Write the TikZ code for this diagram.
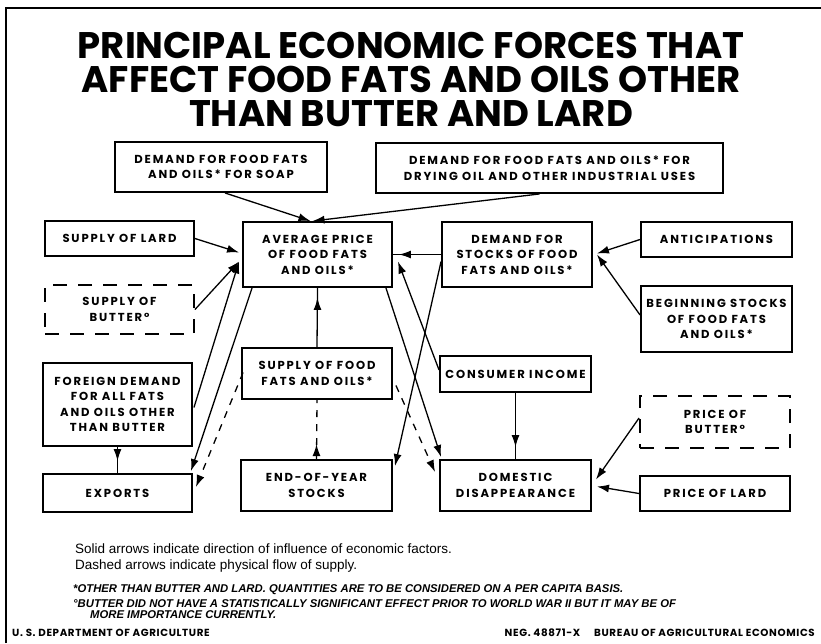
\documentclass[tikz,border=0pt]{standalone}
\usepackage{fontspec}
\setmainfont{Liberation Sans}
\newfontfamily\titlefont{Poppins}
\newfontfamily\boxfont{Poppins}[LetterSpace=16]
\newfontfamily\footfont{Poppins}[LetterSpace=6]
\usetikzlibrary{arrows.meta,calc}

\begin{document}
\begin{tikzpicture}[x=1pt,y=-1pt,
  frame/.style={line width=1.6pt},
  box/.style={draw, line width=1.9pt, align=center, inner sep=0pt,
    font=\boxfont\bfseries\fontsize{11.6}{15.5}\selectfont},
  dbox/.style={box, dash pattern=on 14pt off 11pt},
  sz/.style 2 args={minimum width=#1pt, minimum height=#2pt},
  conn/.style={line width=1.3pt},
  infl/.style={conn, -{Latex[length=12pt,width=8pt]}},
  flow/.style={conn, dash pattern=on 7pt off 7pt},
  flowarrow/.style={flow, -{Latex[length=12pt,width=8pt]}},
  headonly/.style={conn, -{Latex[length=12pt,width=8pt]}},
  ttl/.style={font=\titlefont\bfseries\fontsize{37}{34}\selectfont, inner sep=0pt, anchor=base},
  note/.style={font=\fontsize{13.5}{14}\selectfont, inner sep=0pt, anchor=base west},
  fn/.style={font=\bfseries\itshape\fontsize{11.3}{12}\selectfont, inner sep=0pt, anchor=base west},
  foot/.style={font=\footfont\bfseries\fontsize{10.3}{12}\selectfont, inner sep=0pt}
]
\useasboundingbox (0,0) rectangle (821,643);
\fill[white] (0,0) rectangle (821,643);
\draw[frame] (6,643) -- (6,8) -- (821,8);

% heading
\node[ttl] (t1) at (411,58) {PRINCIPAL ECONOMIC FORCES THAT};
\node[ttl] (t2) at (411,92) {AFFECT FOOD FATS AND OILS OTHER};
\node[ttl] (t3) at (411,126) {THAN BUTTER AND LARD};

% factor boxes
\node[box, sz={212}{50}] (soap) at (221,167) {DEMAND FOR FOOD FATS\\AND OILS* FOR SOAP};
\node[box, sz={347}{50}] (dry) at (549.5,168) {DEMAND FOR FOOD FATS AND OILS* FOR\\DRYING OIL AND OTHER INDUSTRIAL USES};
\node[box, sz={149}{35}] (lard) at (119.5,238.5) {SUPPLY OF LARD};
\node[box, sz={149}{65}] (avg) at (317.5,254.5) {AVERAGE PRICE\\OF FOOD FATS\\AND OILS*};
\node[dbox, sz={149}{49}] (sbut) at (119.5,309.5) {SUPPLY OF\\BUTTER°};
\node[box, sz={150}{65}] (dst) at (517,254.5) {DEMAND FOR\\STOCKS OF FOOD\\FATS AND OILS*};
\node[box, sz={151}{35}] (ant) at (716.5,239.5) {ANTICIPATIONS};
\node[box, sz={151}{66}] (beg) at (716.5,319) {BEGINNING STOCKS\\OF FOOD FATS\\AND OILS*};
\node[box, sz={149}{83}] (fdem) at (117.5,404.5) {FOREIGN DEMAND\\FOR ALL FATS\\AND OILS OTHER\\THAN BUTTER};
\node[box, sz={149}{38}] (exp) at (117.5,493) {EXPORTS};
\node[box, sz={150}{51}] (sup) at (317,373.5) {SUPPLY OF FOOD\\FATS AND OILS*};
\node[box, sz={151}{51}] (eoy) at (316.5,485.5) {END-OF-YEAR\\STOCKS};
\node[box, sz={151}{36}] (inc) at (515.5,374) {CONSUMER INCOME};
\node[dbox, sz={150}{52}] (pbut) at (715,422) {PRICE OF\\BUTTER°};
\node[box, sz={151}{51}] (dom) at (515.5,485.5) {DOMESTIC\\DISAPPEARANCE};
\node[box, sz={150}{35}] (plard) at (715,493.5) {PRICE OF LARD};

% influences (solid)
\draw[infl] ($(soap.south)+(4,0)$) -- ($(avg.north)+(-7,0)$);
\draw[infl] ($(dry.south)+(-10,0)$) -- ($(avg.north)+(-5,0)$);
\draw[infl] (lard.east) -- ($(avg.west)+(-3,-2)$);
\draw[infl] (sbut.east) -- ($(avg.west)+(-3,7)$);
\draw[infl] ($(fdem.east)+(1,3)$) -- ($(avg.west)+(-3,7)$);
\draw[infl] ($(avg.south west)+(10,0)$) -- ($(exp.north east)+(-2,-2)$);
\draw[conn] (fdem.south) -- (exp.north);
\draw[headonly] ($(exp.north)+(0,-26)$) -- ($(exp.north)+(0,-12)$);
\draw[conn] (sup.north) -- (avg.south);
\draw[headonly] ($(avg.south)+(0,24)$) -- ($(avg.south)+(0,10)$);
\draw[infl] ($(avg.south east)+(-7,0)$) -- ($(dom.north west)+(2,-2)$);
\draw[infl] ($(inc.west)+(0,-4)$) -- ($(avg.east)+(5,7)$);
\draw[conn] (dst.west) -- (avg.east);
\draw[headonly] ($(avg.east)+(20,0)$) -- ($(avg.east)+(6,0)$);
\draw[infl] ($(dst.west)+(0,7)$) -- ($(eoy.north east)+(2,7)$);
\draw[infl] (ant.west) -- ($(dst.east)+(4,-1)$);
\draw[infl] ($(beg.west)+(0,-4)$) -- ($(dst.east)+(4,0)$);
\draw[conn] (inc.south) -- (dom.north);
\draw[headonly] ($(dom.north)+(0,-26)$) -- ($(dom.north)+(0,-12)$);
\draw[infl] ($(pbut.west)+(0,-4)$) -- ($(dom.east)+(4,-6)$);
\draw[infl] (plard.west) -- ($(dom.east)+(5,1)$);

% physical flows (dashed)
\draw[flowarrow] ($(sup.west)+(2,-1)$) -- ($(exp.east)+(3,-6)$);
\draw[flow] (eoy.north) -- (sup.south);
\draw[headonly] ($(eoy.north)+(0,-1)$) -- ($(eoy.north)+(0,-15)$);
\draw[flowarrow] ($(sup.east)+(3,12)$) -- ($(dom.north west)+(-4,13)$);

% legend and footnotes
\node[note] (n1) at (75,553) {Solid arrows indicate direction of influence of economic factors.};
\node[note] (n2) at (75,569) {Dashed arrows indicate physical flow of supply.};
\node[fn] (f1) at (73,592) {*OTHER THAN BUTTER AND LARD. QUANTITIES ARE TO BE CONSIDERED ON A PER CAPITA BASIS.};
\node[fn] (f2) at (73,607) {°BUTTER DID NOT HAVE A STATISTICALLY SIGNIFICANT EFFECT PRIOR TO WORLD WAR II BUT IT MAY BE OF};
\node[fn] (f3) at (90,618) {MORE IMPORTANCE CURRENTLY.};
\node[foot, anchor=base west] (usda) at (12,636) {U. S. DEPARTMENT OF AGRICULTURE};
\node[foot, anchor=base east] (bae) at (815,636) {NEG. 48871-X\hspace{14pt}BUREAU OF AGRICULTURAL ECONOMICS};
\end{tikzpicture}
\end{document}
